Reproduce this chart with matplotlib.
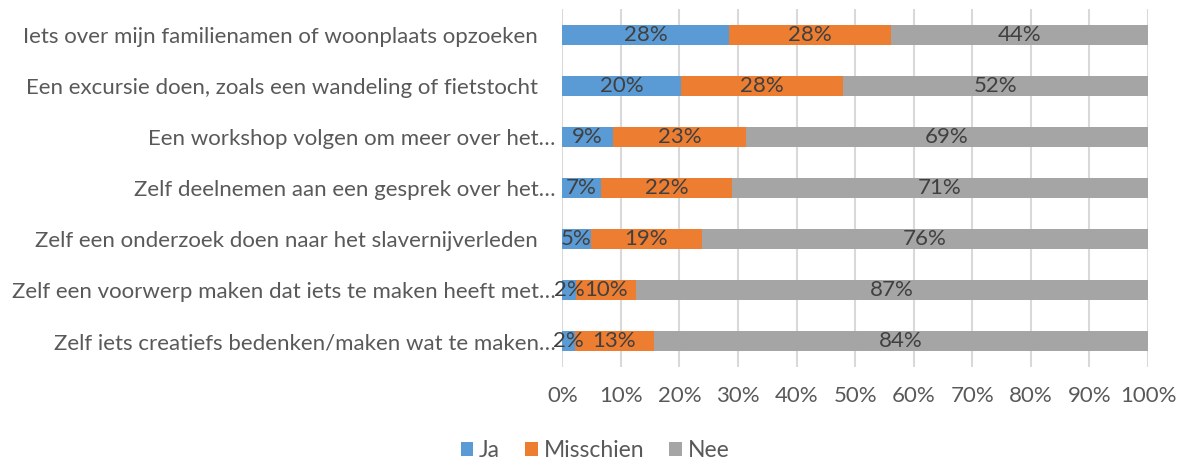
import matplotlib
matplotlib.use("Agg")
import matplotlib.pyplot as plt
import numpy as np

categories = [
    "Iets over mijn familienamen of woonplaats opzoeken   ",
    "Een excursie doen, zoals een wandeling of fietstocht   ",
    "Een workshop volgen om meer over het…",
    "Zelf deelnemen aan een gesprek over het…",
    "Zelf een onderzoek doen naar het slavernijverleden   ",
    "Zelf een voorwerp maken dat iets te maken heeft met…",
    "Zelf iets creatiefs bedenken/maken wat te maken…",
]
ja = [28.4, 20.3, 8.6, 6.6, 4.9, 2.3, 2.2]
misschien = [27.7, 27.6, 22.8, 22.4, 18.9, 10.3, 13.4]
nee = [43.9, 52.1, 68.6, 71.0, 76.2, 87.4, 84.4]
series_names = ["Ja", "Misschien", "Nee"]
colors = ["#5B9BD5", "#ED7D31", "#A5A5A5"]
xticks = [0, 10, 20, 30, 40, 50, 60, 70, 80, 90, 100]

plt.rcParams['font.family'] = ['Lato', 'DejaVu Sans']

fig = plt.figure(figsize=(11.83, 4.62), dpi=100)
ax = fig.add_axes([0.4753, 0.2056, 0.4951, 0.7749])

y = np.arange(len(categories))
left = np.zeros(len(categories))
for name, vals, c in zip(series_names, [ja, misschien, nee], colors):
    vals = np.array(vals)
    ax.barh(y, vals, left=left, height=0.39, color=c, label=name, zorder=3)
    for yi, l, v in zip(y, left, vals):
        ax.text(l + v / 2, yi, f"{v:.0f}%", ha="center", va="center",
                fontsize=16, color="#404040", zorder=4)
    left = left + vals

ax.set_ylim(len(categories) - 0.5, -0.5)
ax.set_xlim(0, 100)
ax.set_yticks(y)
ax.set_yticklabels(categories, fontsize=16, color="#595959")
ax.set_xticks(xticks)
ax.set_xticklabels([f"{t}%" for t in xticks], fontsize=16, color="#595959")
ax.tick_params(axis="both", length=0)
ax.tick_params(axis="y", pad=5)
ax.tick_params(axis="x", pad=14)
ax.grid(axis="x", color="#D9D9D9", linewidth=1.5, zorder=0)
for s in ax.spines.values():
    s.set_visible(False)

fig.legend(loc="center", bbox_to_anchor=(0.503, 0.024), ncol=3, frameon=False,
           fontsize=16.5, handlelength=0.55, handleheight=0.55, handletextpad=0.25,
           columnspacing=1.1, labelcolor="#595959")

fig.savefig("out.png", dpi=100)
